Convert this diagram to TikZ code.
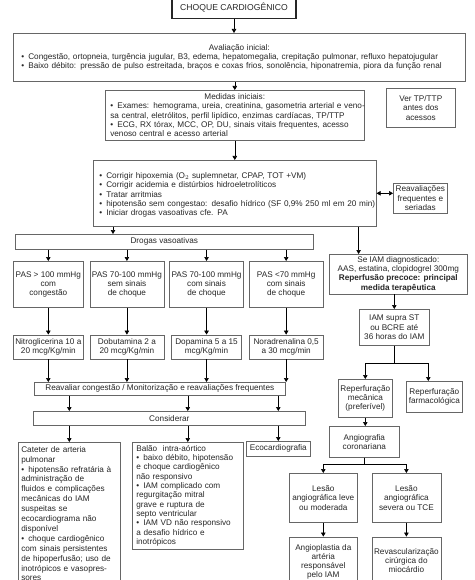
\documentclass[tikz,border=0pt]{standalone}
\usepackage{fontspec}
\setmainfont{Liberation Sans}
\usetikzlibrary{arrows.meta, positioning}

\newcommand{\bul}{\par\noindent\hangindent=7pt\hangafter=1\makebox[7pt][l]{\textbullet}}
\newcommand{\hd}[1]{{\centering #1\par}}

\begin{document}
\begin{tikzpicture}[
  x=1pt, y=1pt,
  every node/.style={font=\fontsize{8.2}{9.3}\selectfont, text=black!85},
  box/.style={rectangle, draw=black!60, line width=0.6pt, inner sep=2pt, align=center},
  listbox/.style={rectangle, draw=black!60, line width=0.6pt, inner ysep=3pt, align=left},
  headbox/.style={rectangle, draw=black!85, line width=1.3pt, font=\fontsize{8.6}{10}\selectfont},
  pasbox/.style={box, minimum height=46pt},
  medbox/.style={box, minimum height=24pt},
  arrow/.style={-{Triangle[length=4pt, width=4.5pt]}, line width=0.6pt},
  dblarrow/.style={{Triangle[length=4pt, width=4.5pt]}-{Triangle[length=4pt, width=4.5pt]}, line width=0.6pt}
]
\useasboundingbox (0,0) rectangle (474,-580);
\clip (0,0) rectangle (474,-580);

% Main column
\node[headbox, minimum width=124pt, minimum height=22pt, anchor=north] (choque) at (234,4) {CHOQUE CARDIOGÊNICO};

\node[listbox, text width=436pt, inner xsep=8pt, minimum height=48pt, anchor=north west] (aval) at (13,-33) {
  \hd{Avaliação inicial:}
  \bul\mbox{Congestão, ortopneia, turgência jugular, B3, edema, hepatomegalia, crepitação pulmonar, refluxo hepatojugular}
  \bul\mbox{Baixo débito: pressão de pulso estreitada, braços e coxas frios, sonolência, hiponatremia, piora da função renal}
};

\node[listbox, text width=249pt, inner xsep=5pt, minimum height=50pt, anchor=north west] (medidas) at (105,-90) {
  \hd{Medidas iniciais:}
  \bul\mbox{Exames: hemograma, ureia, creatinina, gasometria arterial e veno-}\\
  \mbox{sa central, eletrólitos, perfil lipídico, enzimas cardíacas, TP/TTP}
  \bul\mbox{ECG, RX tórax, MCC, OP, DU, sinais vitais frequentes, acesso}\\
  venoso central e acesso arterial
};

\node[box, minimum width=69pt, minimum height=39pt, anchor=north west] (vertp) at (386,-88) {Ver TP/TTP\\antes dos\\acessos};

\node[listbox, text width=271pt, inner xsep=6pt, minimum height=66pt, anchor=north west] (hipox) at (93,-160) {
  \bul Corrigir hipoxemia (O$_2$ suplemnetar, CPAP, TOT +VM)
  \bul Corrigir acidemia e distúrbios hidroeletrolíticos
  \bul Tratar arritmias
  \bul\mbox{hipotensão sem congestao: desafio hídrico (SF 0,9\% 250 ml em 20 min)}
  \bul Iniciar drogas vasoativas cfe. PA
};

\node[box, minimum width=54pt, minimum height=30pt, anchor=north west] (reaval) at (393,-183) {Reavaliações\\frequentes e\\seriadas};

% Vasoactive drugs
\node[box, minimum width=298pt, minimum height=15pt, anchor=north west] (drogas) at (15,-234) {Drogas vasoativas};

\node[pasbox, minimum width=70pt, anchor=north west] (pas1) at (13,-261) {PAS > 100 mmHg\\com\\congestão};
\node[pasbox, minimum width=74pt, right=6pt of pas1] (pas2) {PAS 70-100 mmHg\\sem sinais\\de choque};
\node[pasbox, minimum width=70pt, right=5pt of pas2] (pas3) {PAS 70-100 mmHg\\com sinais\\de choque};
\node[pasbox, minimum width=74pt, right=5pt of pas3] (pas4) {PAS <70 mmHg\\com sinais\\de choque};

\node[medbox, minimum width=70pt, below=27pt of pas1] (med1) {Nitroglicerina 10 a\\20 mcg/Kg/min};
\node[medbox, minimum width=74pt, below=27pt of pas2] (med2) {Dobutamina 2 a\\20 mcg/Kg/min};
\node[medbox, minimum width=70pt, below=27pt of pas3] (med3) {Dopamina 5 a 15\\mcg/Kg/min};
\node[medbox, minimum width=74pt, below=27pt of pas4] (med4) {Noradrenalina 0,5\\a 30 mcg/min};

\node[box, minimum width=251pt, minimum height=13pt, inner ysep=1pt, anchor=north west] (reav2) at (34,-382) {Reavaliar congestão / Monitorização e reavaliações frequentes};
\node[box, minimum width=272pt, minimum height=14pt, inner ysep=1pt, anchor=north west] (consid) at (33,-411) {Considerar};

\node[listbox, text width=96pt, inner xsep=3pt, inner ysep=4pt, font=\fontsize{8.2}{9.9}\selectfont, anchor=north west] (cateter) at (18,-442) {
  Cateter de arteria\\pulmonar
  \bul hipotensão refratária à\\administração de\\fluidos e complicações\\mecânicas do IAM\\suspeitas se\\ecocardiograma não\\disponível
  \bul choque cardiogênico\\com sinais persistentes\\de hipoperfusão; uso de\\inotrópicos e vasopres-\\sores
};

\node[listbox, text width=103pt, inner xsep=4pt, anchor=north west] (balao) at (132,-442) {
  Balão\ \ intra-aórtico
  \bul baixo débito, hipotensão\\e choque cardiogênico\\não responsivo
  \bul IAM complicado com\\regurgitação mitral\\grave e ruptura de\\septo ventricular
  \bul IAM VD não responsivo\\a desafio hídrico e\\inotrópicos
};

\node[box, minimum width=64pt, minimum height=15pt, anchor=north west] (eco) at (246,-441) {Ecocardiografia};

% Right column
\node[box, minimum width=138pt, minimum height=39pt, anchor=north west] (seiam) at (329,-254) {Se IAM diagnosticado:\\AAS, estatina, clopidogrel 300mg\\\textbf{Reperfusão precoce: principal}\\\textbf{medida terapêutica}};

\node[box, minimum width=70pt, minimum height=36pt, anchor=north west] (iamst) at (359,-309) {IAM supra ST\\ou BCRE até\\36 horas do IAM};

\node[box, minimum width=54pt, minimum height=38pt, anchor=north west] (mecanica) at (338,-379) {Reperfuração\\mecânica\\(preferível)};
\node[box, minimum width=56pt, minimum height=31pt, anchor=north west] (farmaco) at (406,-381) {Reperfuração\\farmacológica};

\node[box, minimum width=70pt, minimum height=31pt, anchor=north west] (angio) at (329,-426) {Angiografia\\coronariana};

\node[box, minimum width=68pt, minimum height=49pt, anchor=north west] (lesleve) at (289,-473) {Lesão\\angiográfica leve\\ou moderada};
\node[box, minimum width=69pt, minimum height=49pt, right=14pt of lesleve] (lessev) {Lesão\\angiográfica\\severa ou TCE};

\node[box, minimum width=68pt, minimum height=50pt, below=14pt of lesleve] (angiopl) {Angioplastia da\\artéria\\responsável\\pelo IAM};
\node[box, minimum width=69pt, minimum height=47pt, below=14pt of lessev] (revasc) {Revascularização\\cirúrgica do\\miocárdio};

% Arrows
\draw[arrow] (choque.south) -- (choque.south |- aval.north);
\draw[arrow] (aval.south -| medidas.north) -- (medidas.north);
\draw[arrow] (medidas.south) -- (medidas.south |- hipox.north);
\draw[dblarrow] (hipox.east) -- (hipox.east -| reaval.west);
\draw[arrow] ([xshift=20pt]hipox.south west) -- ([xshift=20pt]hipox.south west |- drogas.north);
\draw[arrow] ([xshift=-18pt]hipox.south east) -- ([xshift=-18pt]hipox.south east |- seiam.north);

\foreach \n in {1,...,4} {
  \draw[arrow] (drogas.south -| pas\n) -- (pas\n);
  \draw[arrow] (pas\n) -- (med\n);
  \draw[arrow] (med\n) -- (med\n |- reav2.north);
}
\foreach \b in {cateter, balao, eco} {
  \draw[arrow] (reav2.south -| \b) -- (consid.north -| \b);
  \draw[arrow] (consid.south -| \b) -- (\b);
}

\draw[arrow] (seiam.south -| iamst.north) -- (iamst.north);
\draw[arrow] (iamst.south) -- ++(0,-18pt) -| (mecanica.north);
\draw[arrow] (iamst.south) -- ++(0,-18pt) -| ([xshift=-6pt]farmaco.north);
\draw[arrow] (mecanica.south) -- (mecanica.south |- angio.north);
\draw[arrow] (angio.south) -- ++(0,-7pt) -| (lesleve.north);
\draw[arrow] (angio.south) -- ++(0,-7pt) -| (lessev.north);
\draw[arrow] (lesleve) -- (angiopl);
\draw[arrow] (lessev) -- (revasc);

\end{tikzpicture}
\end{document}
